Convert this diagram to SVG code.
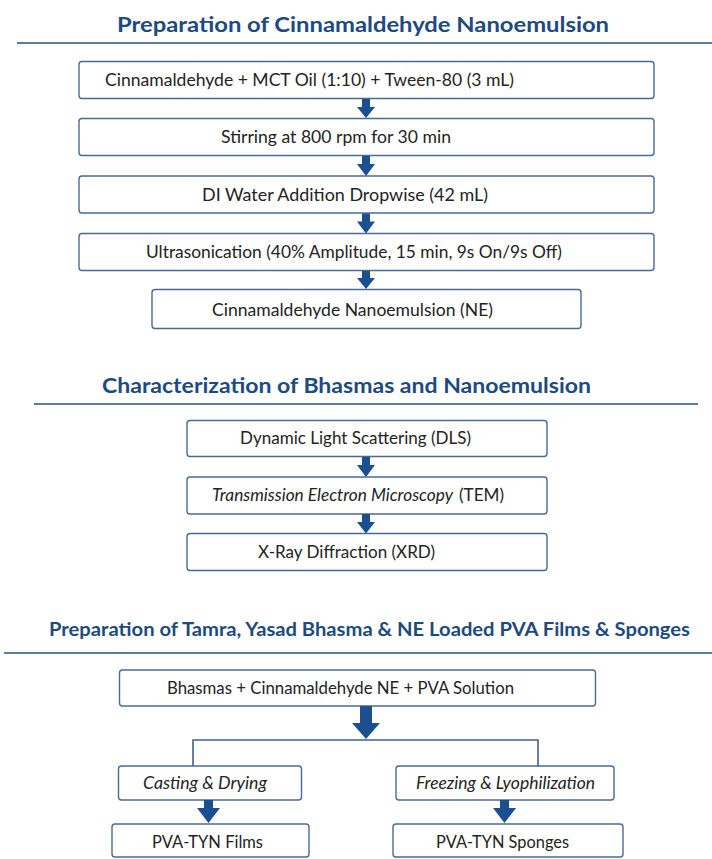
<svg xmlns="http://www.w3.org/2000/svg" width="712" height="859" viewBox="0 0 712 859">
<style>
.bg{fill:#ffffff}
.title{font-family:Lato,"Open Sans",sans-serif;font-weight:bold;font-size:21px;fill:#1d4a80}
.rule{stroke:#5c7ca6;stroke-width:2;fill:none}
.box{fill:#ffffff;stroke:#4a6a96;stroke-width:1.4}
.lbl{font-family:Lato,"Open Sans",sans-serif;font-size:16.5px;fill:#232323}
.it{font-style:italic}
.arrow{fill:#1c4f8f}
.branch{stroke:#3f6190;stroke-width:1.6;fill:none}
</style>
<rect class="bg" x="0" y="0" width="712" height="859"/>

<g id="section1">
<text class="title" x="117" y="31.5" textLength="492" lengthAdjust="spacingAndGlyphs">Preparation of Cinnamaldehyde Nanoemulsion</text>
<line class="rule" x1="17" y1="43" x2="712" y2="43"/>
</g>

<g id="n1"><rect class="box" x="79" y="61.5" width="575" height="37" rx="3"/>
<text class="lbl" x="105" y="85.5" textLength="409" lengthAdjust="spacingAndGlyphs">Cinnamaldehyde + MCT Oil (1:10) + Tween-80 (3 mL)</text></g>
<g id="n2"><rect class="box" x="79" y="118.5" width="575" height="37" rx="3"/>
<text class="lbl" x="221" y="142.5" textLength="230" lengthAdjust="spacingAndGlyphs">Stirring at 800 rpm for 30 min</text></g>
<g id="n3"><rect class="box" x="79" y="176" width="575" height="37" rx="3"/>
<text class="lbl" x="202" y="200.5" textLength="286" lengthAdjust="spacingAndGlyphs">DI Water Addition Dropwise (42 mL)</text></g>
<g id="n4"><rect class="box" x="79" y="233.5" width="575" height="37" rx="3"/>
<text class="lbl" x="146" y="257.5" textLength="416" lengthAdjust="spacingAndGlyphs">Ultrasonication (40% Amplitude, 15 min, 9s On/9s Off)</text></g>
<g id="n5"><rect class="box" x="152" y="289.5" width="429" height="39" rx="3"/>
<text class="lbl" x="212" y="316" textLength="281" lengthAdjust="spacingAndGlyphs">Cinnamaldehyde Nanoemulsion (NE)</text></g>

<g id="section2">
<text class="title" x="102" y="392.5" textLength="489" lengthAdjust="spacingAndGlyphs">Characterization of Bhasmas and Nanoemulsion</text>
<line class="rule" x1="34" y1="404" x2="698" y2="404"/>
</g>

<g id="n6"><rect class="box" x="187" y="420.5" width="360" height="36" rx="3"/>
<text class="lbl" x="240" y="444" textLength="231" lengthAdjust="spacingAndGlyphs">Dynamic Light Scattering (DLS)</text></g>
<g id="n7"><rect class="box" x="187" y="477" width="360" height="37" rx="3"/>
<text class="lbl" y="501"><tspan class="it" x="212" textLength="241" lengthAdjust="spacingAndGlyphs">Transmission Electron Microscopy</tspan><tspan x="459" textLength="45" lengthAdjust="spacingAndGlyphs">(TEM)</tspan></text></g>
<g id="n8"><rect class="box" x="187" y="533.5" width="360" height="37" rx="3"/>
<text class="lbl" x="258" y="557.5" textLength="177" lengthAdjust="spacingAndGlyphs">X-Ray Diffraction (XRD)</text></g>

<g id="section3">
<text class="title" x="369.5" y="635.5" text-anchor="middle" style="font-size:18.5px" textLength="641" lengthAdjust="spacingAndGlyphs">Preparation of Tamra, Yasad Bhasma &amp; NE Loaded PVA Films &amp; Sponges</text>
<line class="rule" x1="4" y1="653" x2="712" y2="653"/>
</g>

<g id="n9"><rect class="box" x="119.5" y="670" width="476" height="36" rx="3"/>
<text class="lbl" x="167" y="694" textLength="347" lengthAdjust="spacingAndGlyphs">Bhasmas + Cinnamaldehyde NE + PVA Solution</text></g>
<g id="n10"><rect class="box" x="118.5" y="766" width="183" height="34" rx="3"/>
<text class="lbl it" x="143" y="789" textLength="124" lengthAdjust="spacingAndGlyphs">Casting &amp; Drying</text></g>
<g id="n11"><rect class="box" x="396" y="766" width="218" height="34" rx="3"/>
<text class="lbl it" x="416" y="789" textLength="179" lengthAdjust="spacingAndGlyphs">Freezing &amp; Lyophilization</text></g>
<g id="n12"><rect class="box" x="112" y="824" width="197" height="33" rx="3"/>
<text class="lbl" x="152" y="847.5" textLength="111" lengthAdjust="spacingAndGlyphs">PVA-TYN Films</text></g>
<g id="n13"><rect class="box" x="393" y="824" width="230" height="33" rx="3"/>
<text class="lbl" x="436" y="847.5" textLength="133" lengthAdjust="spacingAndGlyphs">PVA-TYN Sponges</text></g>

<g id="connectors">
<path class="arrow" d="M362,99 h8 v8 h5 l-9,11 l-9,-11 h5 z"/>
<path class="arrow" d="M362,156 h8 v8 h5 l-9,12 l-9,-12 h5 z"/>
<path class="arrow" d="M362,213.5 h8 v8 h5 l-9,12 l-9,-12 h5 z"/>
<path class="arrow" d="M362,271 h8 v7 h5 l-9,11 l-9,-11 h5 z"/>
<path class="arrow" d="M362,457 h8 v8 h5 l-9,12 l-9,-12 h5 z"/>
<path class="arrow" d="M362,514 h8 v8 h5 l-9,11.5 l-9,-11.5 h5 z"/>
<path class="arrow" d="M360,706 h12 v17 h8 l-14,16 l-14,-16 h8 z"/>
<path class="branch" d="M193,766 V740 H538 V766"/>
<path class="arrow" d="M204,800 h9 v8 h7 l-11.5,15 l-11.5,-15 h7 z"/>
<path class="arrow" d="M500,800 h9 v8 h7 l-11.5,15 l-11.5,-15 h7 z"/>
</g>
</svg>
